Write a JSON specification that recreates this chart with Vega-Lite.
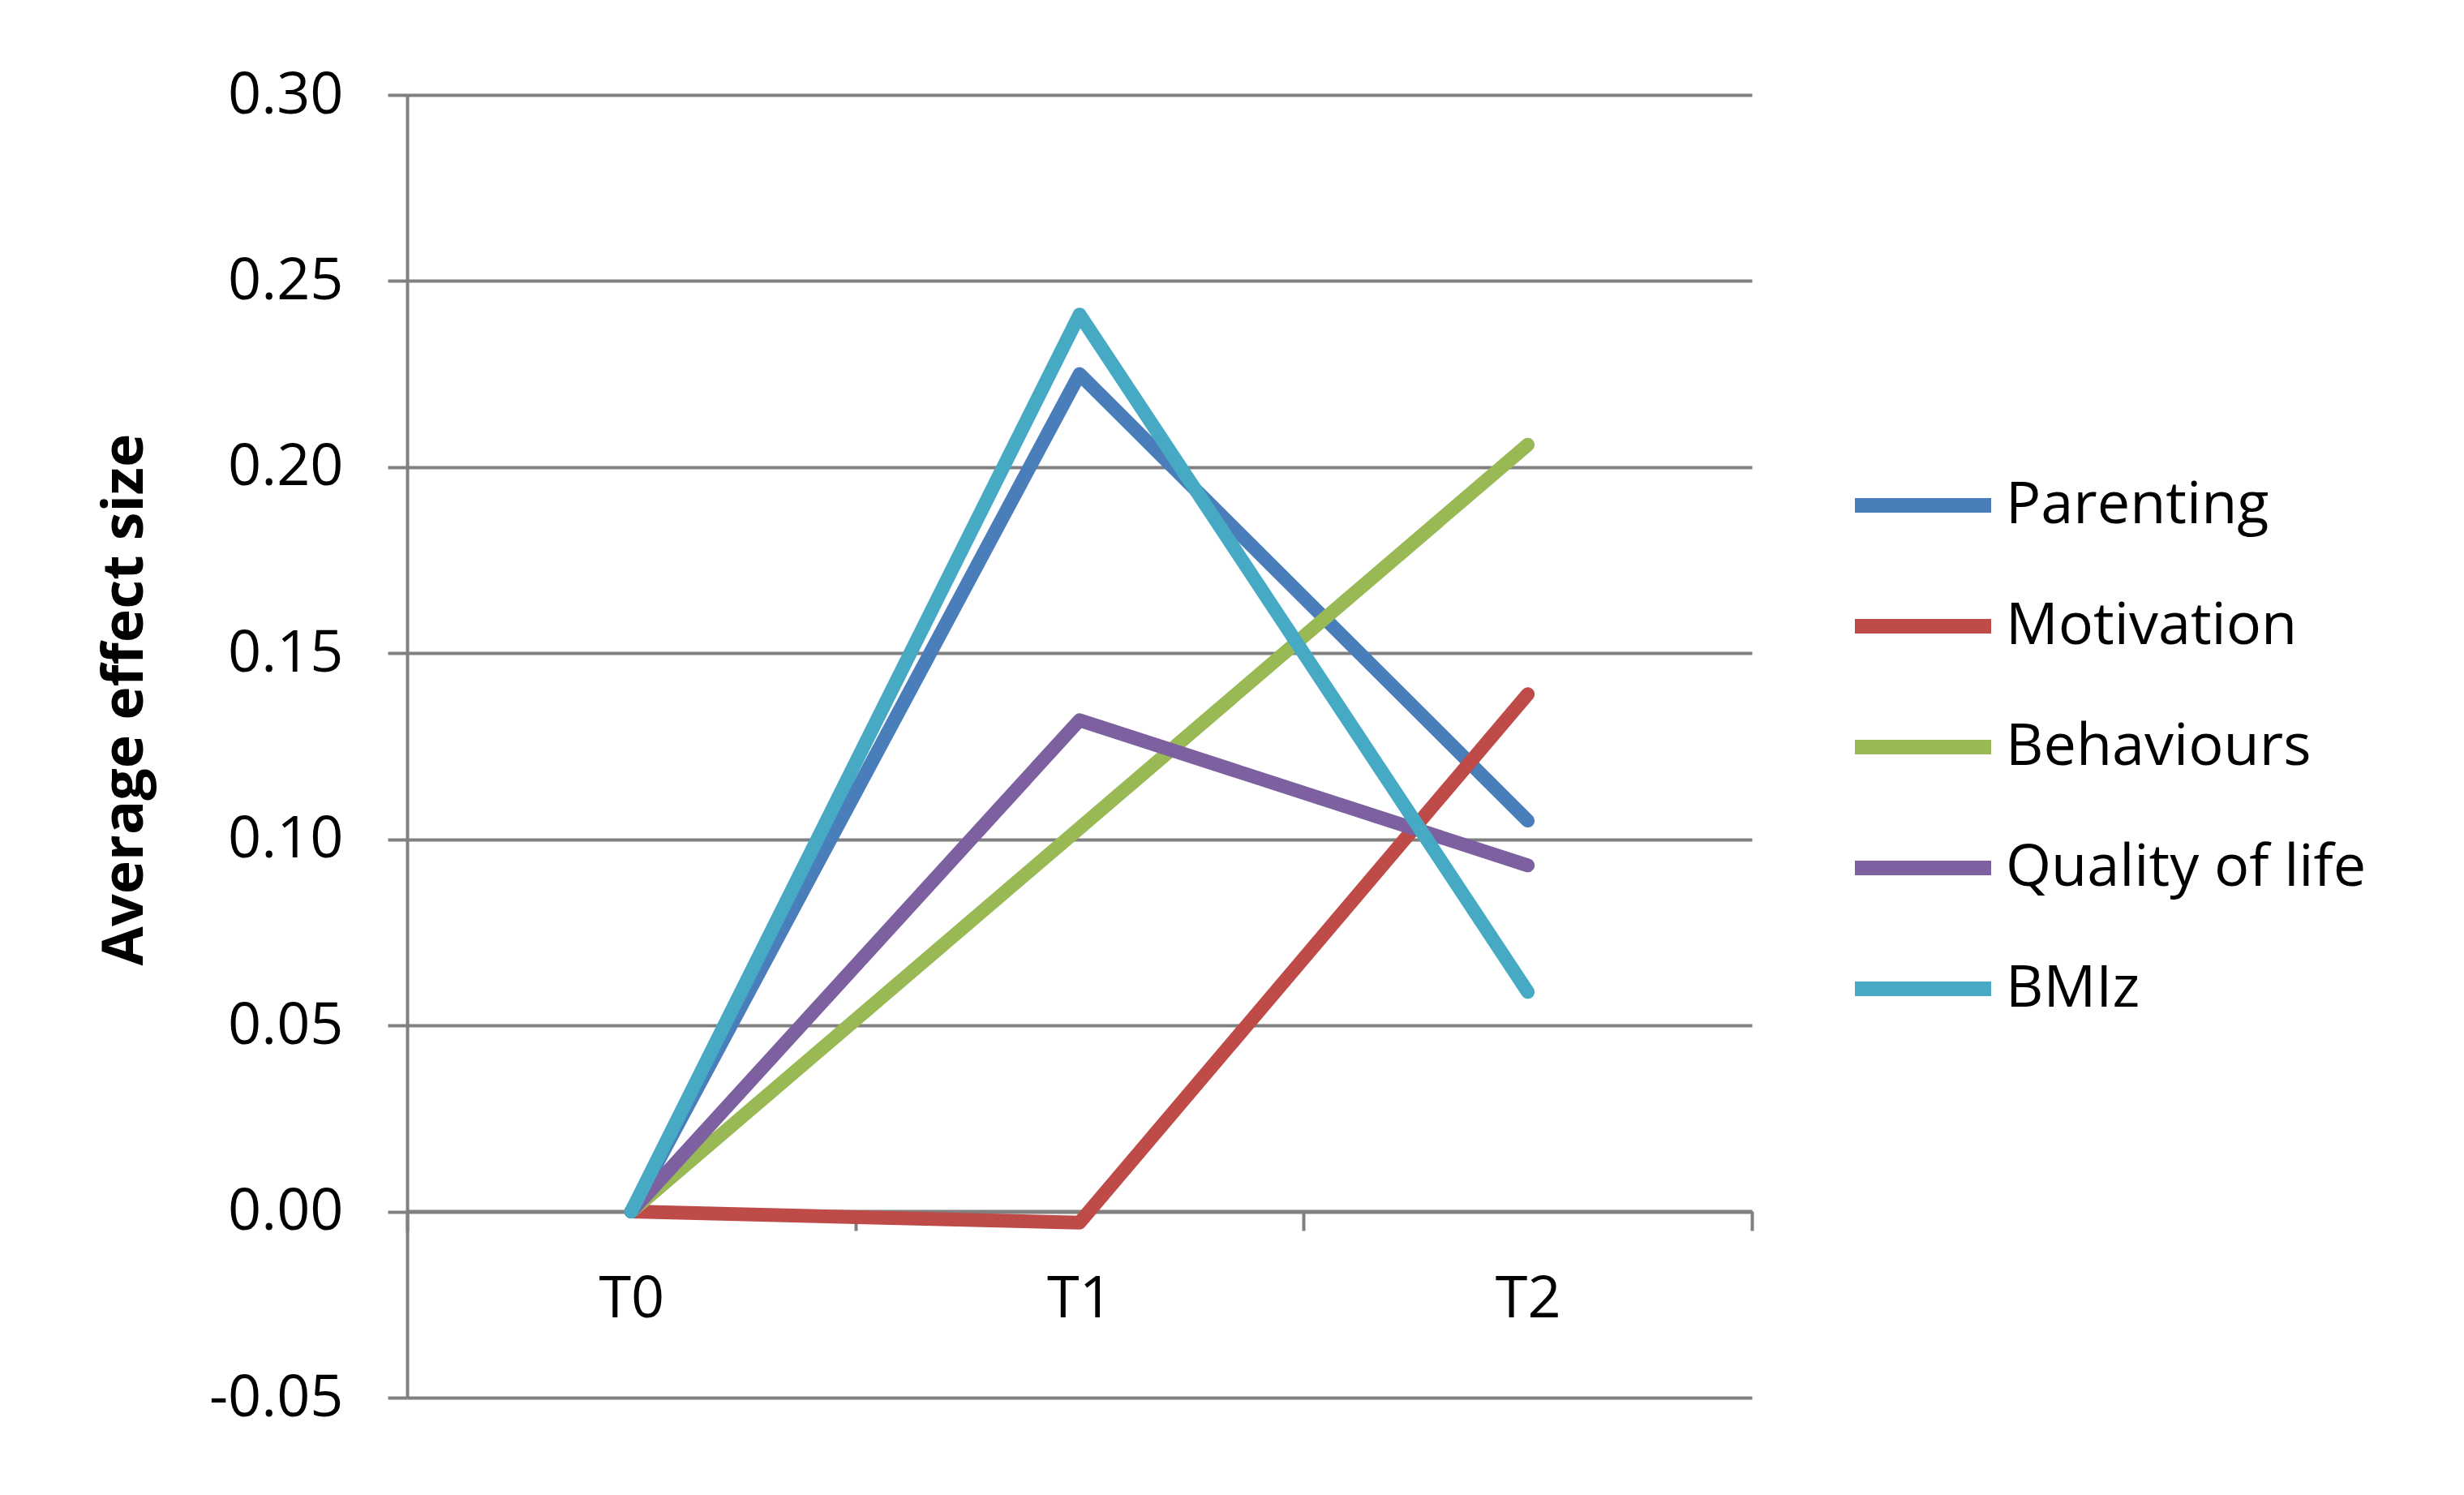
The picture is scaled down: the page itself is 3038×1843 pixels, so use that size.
{
  "$schema": "https://vega.github.io/schema/vega-lite/v6.json",
  "autosize": {"type": "none"},
  "width": 1658,
  "height": 1606,
  "padding": {"left": 502, "top": 117, "right": 878, "bottom": 120},
  "background": "white",
  "data": {
    "values": [
      {"series": "Parenting", "time": "T0", "value": 0},
      {"series": "Parenting", "time": "T1", "value": 0.225},
      {"series": "Parenting", "time": "T2", "value": 0.105},
      {"series": "Motivation", "time": "T0", "value": 0},
      {"series": "Motivation", "time": "T1", "value": -0.003},
      {"series": "Motivation", "time": "T2", "value": 0.139},
      {"series": "Behaviours", "time": "T0", "value": 0},
      {"series": "Behaviours", "time": "T1", "value": 0.103},
      {"series": "Behaviours", "time": "T2", "value": 0.206},
      {"series": "Quality of life", "time": "T0", "value": 0},
      {"series": "Quality of life", "time": "T1", "value": 0.132},
      {"series": "Quality of life", "time": "T2", "value": 0.093},
      {"series": "BMIz", "time": "T0", "value": 0},
      {"series": "BMIz", "time": "T1", "value": 0.241},
      {"series": "BMIz", "time": "T2", "value": 0.059}
    ]
  },
  "mark": {"type": "line", "strokeWidth": 17, "strokeCap": "round", "strokeJoin": "round"},
  "encoding": {
    "x": {
      "field": "time",
      "type": "nominal",
      "bandPosition": 0.5,
      "scale": {"type": "band", "domain": ["T0", "T1", "T2"], "paddingInner": 0, "paddingOuter": 0},
      "axis": {
        "title": null,
        "offset": -230,
        "tickBand": "extent",
        "labelAngle": 0,
        "grid": false,
        "domainColor": "#808080",
        "domainWidth": 4,
        "tickColor": "#808080",
        "tickWidth": 4,
        "tickSize": 24,
        "labelPadding": 49,
        "labelFont": "Open Sans",
        "labelFontSize": 72,
        "labelColor": "#000000"
      }
    },
    "y": {
      "field": "value",
      "type": "quantitative",
      "scale": {"domain": [-0.05, 0.3], "nice": false, "zero": false},
      "axis": {
        "title": "Average effect size",
        "values": [-0.05, 0, 0.05, 0.1, 0.15, 0.2, 0.25, 0.3],
        "labelExpr": "replace(format(datum.value, '.2f'), '\u2212', '-')",
        "labelLimit": 600,
        "grid": true,
        "gridColor": "#808080",
        "gridWidth": 4,
        "domainColor": "#808080",
        "domainWidth": 4,
        "tickColor": "#808080",
        "tickWidth": 4,
        "tickSize": 24,
        "labelPadding": 55,
        "labelFont": "Open Sans",
        "labelFontSize": 72,
        "labelColor": "#000000",
        "titleFont": "Open Sans",
        "titleFontSize": 70,
        "titleFontWeight": "bold",
        "titleColor": "#000000",
        "titlePadding": 112,
        "titleY": 745
      }
    },
    "color": {
      "field": "series",
      "type": "nominal",
      "scale": {
        "domain": ["Parenting", "Motivation", "Behaviours", "Quality of life", "BMIz"],
        "range": ["#4A7EBB", "#BE4B48", "#98B954", "#7D60A0", "#46AAC5"]
      },
      "legend": {
        "title": null,
        "orient": "none",
        "legendX": 1776,
        "legendY": 413,
        "padding": 0,
        "symbolType": "stroke",
        "symbolSize": 28224,
        "symbolStrokeWidth": 18,
        "labelFont": "Open Sans",
        "labelFontSize": 72,
        "labelColor": "#000000",
        "labelOffset": 9,
        "rowPadding": 20,
        "labelLimit": 1000
      }
    }
  },
  "config": {
    "view": {"stroke": null}
  }
}
